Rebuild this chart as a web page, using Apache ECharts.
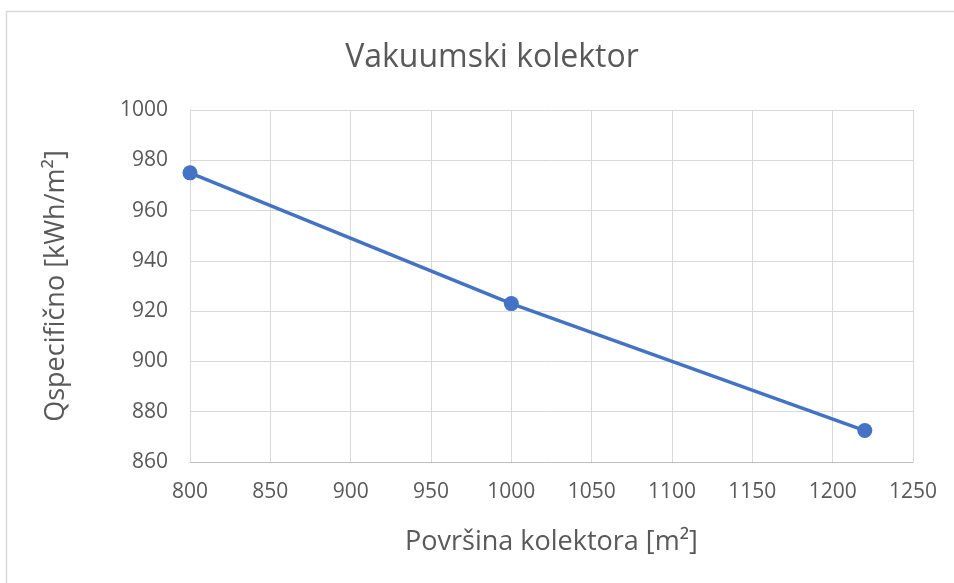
<!DOCTYPE html>
<html><head><meta charset="utf-8">
<script src="https://cdn.jsdelivr.net/npm/echarts@6/dist/echarts.min.js"></script>
<style>html,body{margin:0;padding:0;background:#fff}#c{width:954px;height:583px}</style>
</head><body><div id="c"></div>
<script>
const xValues = [800, 1000, 1220];
const yValues = [975, 923, 872.5];
const titleText = 'Vakuumski kolektor';
const xName = 'Površina kolektora [m²]';
const yName = 'Qspecifično [kWh/m²]';
const FONT = 'Open Sans';
const chart = echarts.init(document.getElementById('c'));
chart.setOption({
  animation: false,
  backgroundColor: '#fff',
  graphic: [{type:'rect', shape:{x:6.5,y:11.5,width:960,height:600}, style:{fill:'none', stroke:'#d9d9d9', lineWidth:1.5}, silent:true}],
  title: {text: titleText, left: 487, textAlign: 'center', top: 37, textStyle:{fontFamily:FONT, fontSize:32, fontWeight:'normal', color:'#595959'}},
  grid: {left:190, top:110, right:41, bottom:121},
  xAxis: {type:'value', min:800, max:1250, interval:50,
    name: xName, nameLocation:'middle', nameGap:80, nameTextStyle:{fontFamily:FONT, fontSize:27, color:'#595959', verticalAlign:'middle'},
    axisLine:{show:true, lineStyle:{color:'#bfbfbf'}}, axisTick:{show:false},
    axisLabel:{fontFamily:FONT, fontSize:21, color:'#595959', margin:20, formatter: v => String(v)},
    splitLine:{show:true, lineStyle:{color:'#d9d9d9', width:1}}},
  yAxis: {type:'value', min:860, max:1000, interval:20,
    name: yName, nameLocation:'middle', nameGap:134, nameTextStyle:{fontFamily:FONT, fontSize:27, color:'#595959', verticalAlign:'middle'},
    axisLine:{show:true, lineStyle:{color:'#d9d9d9'}}, axisTick:{show:false},
    axisLabel:{fontFamily:FONT, fontSize:21, color:'#595959', margin:22, formatter: v => String(v)},
    splitLine:{show:true, lineStyle:{color:'#d9d9d9', width:1}}},
  series: [{type:'line', data: xValues.map((x,i)=>[x, yValues[i]]),
    symbol:'circle', symbolSize:15, lineStyle:{color:'#4472C4', width:3.5}, itemStyle:{color:'#4472C4'}}]
});
</script></body></html>
